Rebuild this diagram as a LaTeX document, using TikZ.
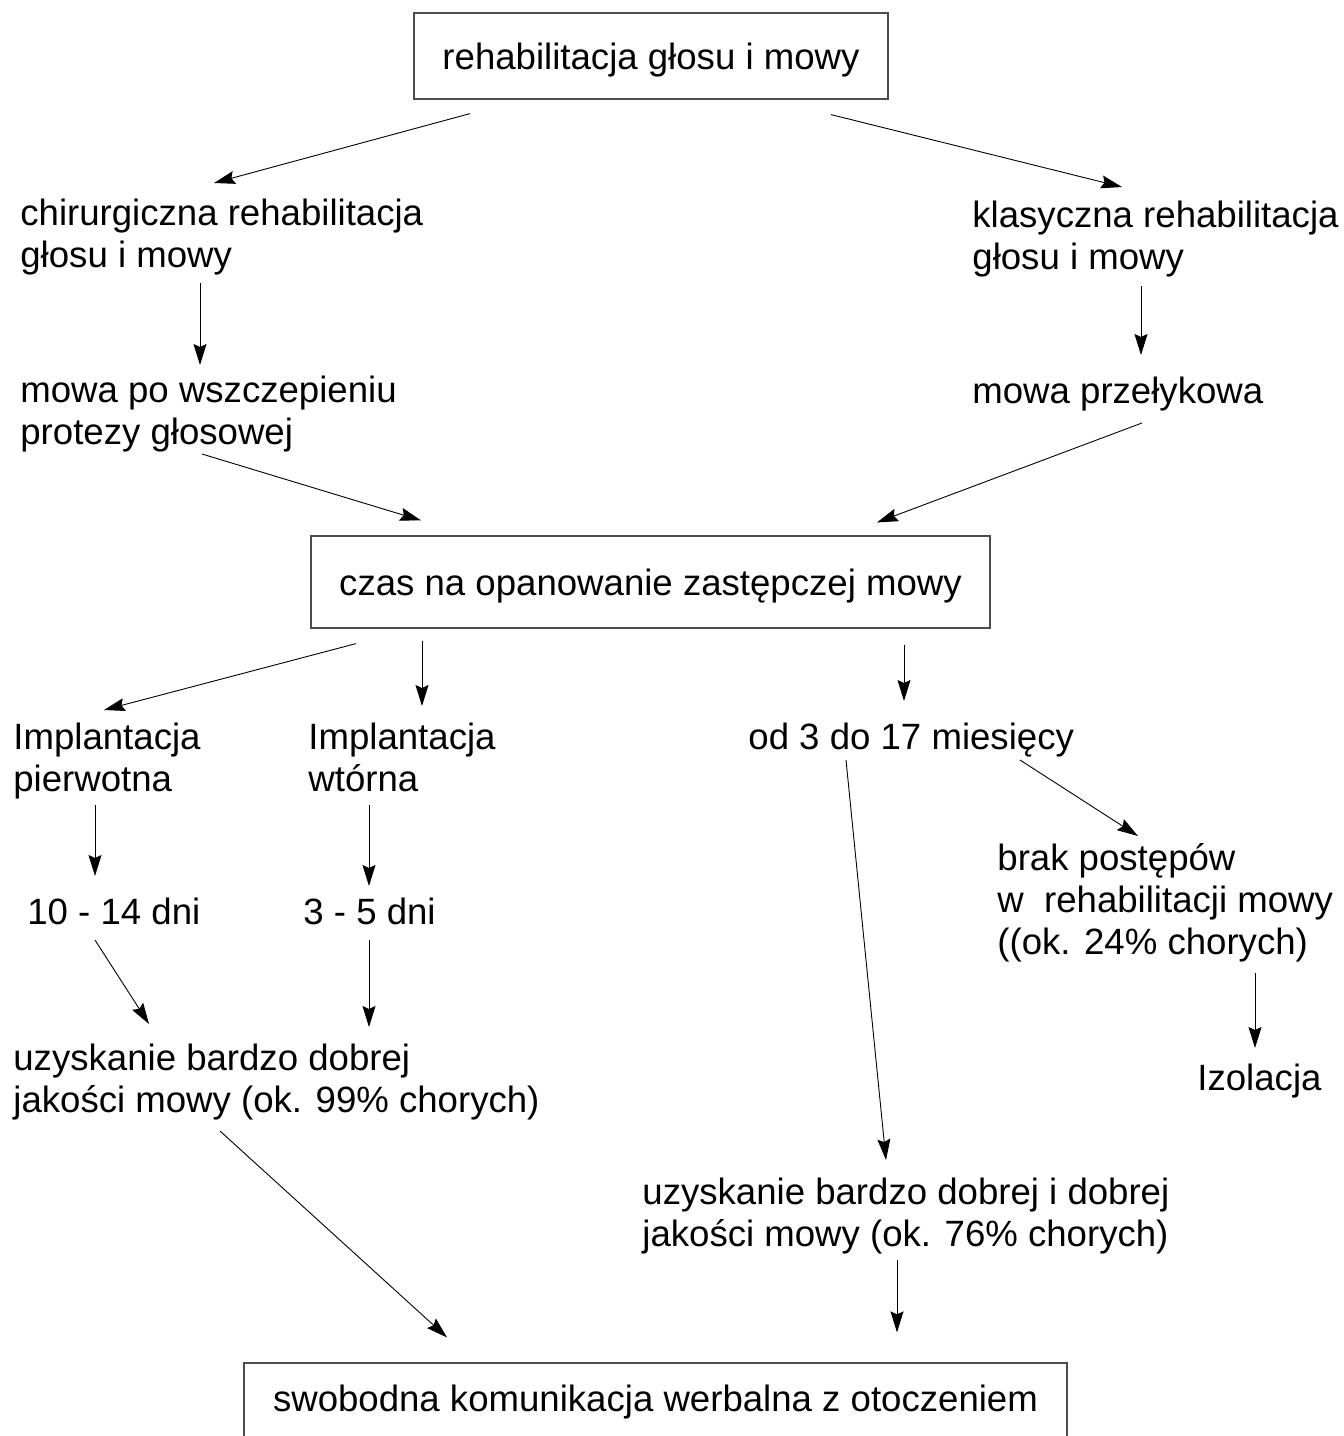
\documentclass[tikz,border=0pt]{standalone}
\usepackage{fontspec}
\setmainfont{Liberation Sans}
\usetikzlibrary{arrows.meta}
\newcommand{\txtsize}{\fontsize{18.3}{21}\selectfont}
\tikzset{
  box/.style={draw=black!70, line width=0.6pt, inner sep=0pt, text depth=0pt, font=\txtsize},
  txt/.style={anchor=base west, inner sep=0pt, align=left, font=\txtsize},
  arr/.style={line width=0.45pt, -{Stealth[length=10.5pt, width=6.5pt, inset=1.5pt]}}
}

\begin{document}
\begin{tikzpicture}[x=0.5pt, y=-0.5pt]
	\useasboundingbox (0,0) rectangle (1344,1436);
	% boxes
	\node[box, minimum width=237pt, minimum height=43pt] (rehab) at (651,56) {rehabilitacja głosu i mowy};
	\node[box, minimum width=339.5pt, minimum height=46pt] (czas) at (650.5,582) {czas na opanowanie zastępczej mowy};
	\node[box, text depth=4pt, minimum width=411.5pt, minimum height=39.6pt] (swob) at (655.5,1402.6) {swobodna komunikacja werbalna z otoczeniem};
	% texts (placed at the baseline of their last line)
	\node[txt] (chir) at (20,267) {chirurgiczna rehabilitacja\\głosu i mowy};
	\node[txt] (klas) at (972,269) {klasyczna rehabilitacja\\głosu i mowy};
	\node[txt] (proteza) at (20,444) {mowa po wszczepieniu\\protezy głosowej};
	\node[txt] (przel) at (972,403) {mowa przełykowa};
	\node[txt] (pierw) at (13,791) {Implantacja\\pierwotna};
	\node[txt] (wtor) at (308,791) {Implantacja\\wtórna};
	\node[txt] (mies) at (748,749) {od 3 do 17 miesięcy};
	\node[txt] (dni1) at (27,924) {10 - 14 dni};
	\node[txt] (dni2) at (303,924) {3 - 5 dni};
	\node[txt] (brak) at (997,954) {brak postępów\\w\ \ rehabilitacji mowy\\((ok. 24\% chorych)};
	\node[txt] (izol) at (1197,1090) {Izolacja};
	\node[txt] (dobra) at (13,1112) {uzyskanie bardzo dobrej\\jakości mowy (ok. 99\% chorych)};
	\node[txt] (dobra2) at (642,1246) {uzyskanie bardzo dobrej i dobrej\\jakości mowy (ok. 76\% chorych)};
	% arrows
	\draw[arr] ([shift={(-181,14)}]rehab.south) -- ([shift={(194,-84)}]chir.base west);
	\draw[arr] ([shift={(180,15)}]rehab.south) -- ([shift={(150,-82)}]klas.base west);
	\draw[arr] ([shift={(180,16)}]chir.base west) -- ([shift={(180,-79)}]proteza.base west);
	\draw[arr] ([shift={(169,17)}]klas.base west) -- ([shift={(169,-48)}]przel.base west);
	\draw[arr] ([shift={(182,10)}]proteza.base west) -- ([shift={(-229.5,-15)}]czas.north);
	\draw[arr] ([shift={(170,20)}]przel.base west) -- ([shift={(226.5,-13)}]czas.north);
	\draw[arr] ([shift={(-294.5,15)}]czas.south) -- ([shift={(91,-81)}]pierw.base west);
	\draw[arr] ([shift={(-228.5,12)}]czas.south) -- ([shift={(114,-85)}]wtor.base west);
	\draw[arr] ([shift={(253.5,16)}]czas.south) -- ([shift={(156,-48)}]mies.base west);
	\draw[arr] ([shift={(82,14)}]pierw.base west) -- ([shift={(68,-48)}]dni1.base west);
	\draw[arr] ([shift={(61,14)}]wtor.base west) -- ([shift={(66,-38)}]dni2.base west);
	\draw[arr] ([shift={(272,11)}]mies.base west) -- ([shift={(141,-118)}]brak.base west);
	\draw[arr] ([shift={(68,16)}]dni1.base west) -- ([shift={(136,-88)}]dobra.base west);
	\draw[arr] ([shift={(66,16)}]dni2.base west) -- ([shift={(356,-85)}]dobra.base west);
	\draw[arr] ([shift={(98,11)}]mies.base west) -- ([shift={(244,-86)}]dobra2.base west);
	\draw[arr] ([shift={(258,19)}]brak.base west) -- ([shift={(58,-42)}]izol.base west);
	\draw[arr] ([shift={(207,19)}]dobra.base west) -- ([shift={(-208.5,-25)}]swob.north);
	\draw[arr] ([shift={(255,14)}]dobra2.base west) -- ([shift={(241.5,-30)}]swob.north);
\end{tikzpicture}
\end{document}
